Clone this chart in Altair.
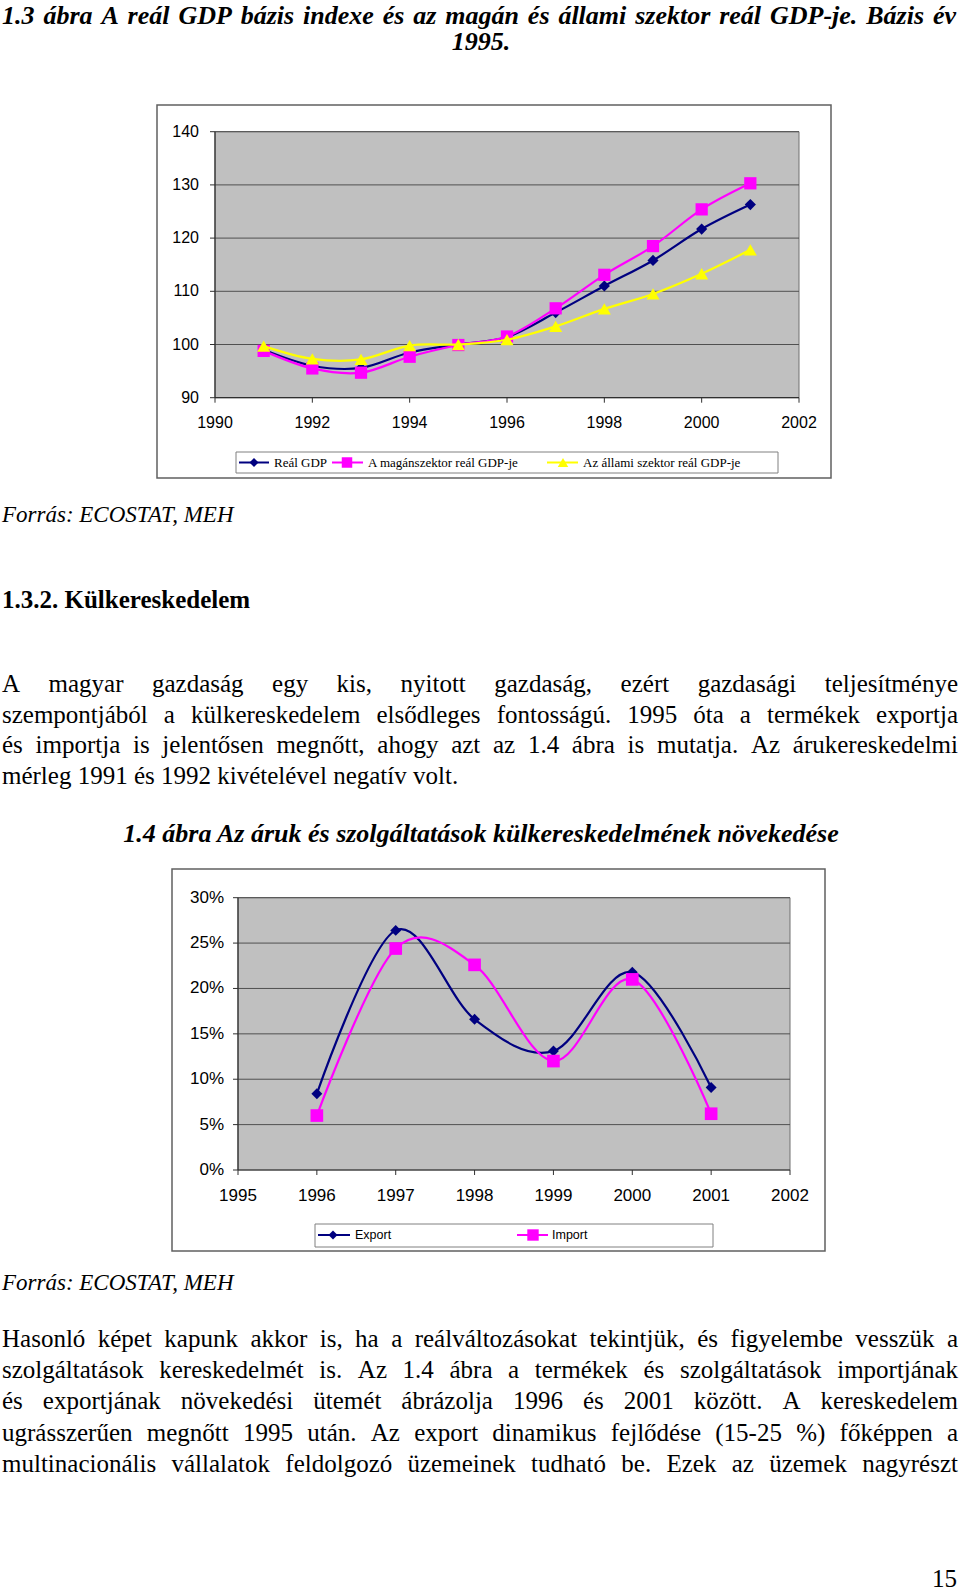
import unicodedata
import altair as alt
import pandas as pd

# ---------------- chart 1 data (index, 1995 = 100) ----------------
years_gdp = [1991, 1992, 1993, 1994, 1995, 1996, 1997, 1998, 1999, 2000, 2001]
real_gdp = [99.0, 96.0, 95.6, 98.5, 100.0, 101.4, 106.0, 111.0, 115.8, 121.7, 126.3]
private_gdp = [98.8, 95.5, 94.7, 97.7, 99.9, 101.5, 106.8, 113.1, 118.5, 125.4, 130.3]
state_gdp = [99.7, 97.3, 97.2, 99.8, 100.0, 100.9, 103.4, 106.7, 109.5, 113.3, 117.8]
series_gdp = ["Reál GDP", "A magánszektor reál GDP-je", "Az állami szektor reál GDP-je"]
y_ticks_gdp = [90, 100, 110, 120, 130, 140]
x_ticks_gdp = [1990, 1992, 1994, 1996, 1998, 2000, 2002]

# ---------------- chart 2 data (growth, %) ----------------
years_trade = [1996, 1997, 1998, 1999, 2000, 2001]
export_growth = [8.4, 26.4, 16.6, 13.1, 21.8, 9.1]
import_growth = [6.0, 24.4, 22.6, 12.0, 21.0, 6.2]
series_trade = ["Export", "Import"]
y_ticks_trade = [0, 5, 10, 15, 20, 25, 30]
y_labels_trade = ["0%", "5%", "10%", "15%", "20%", "25%", "30%"]
x_ticks_trade = [1995, 1996, 1997, 1998, 1999, 2000, 2001, 2002]

# ---------------- page text ----------------
title1 = ["1.3 ábra A reál GDP bázis indexe és az magán és állami szektor reál GDP-je. Bázis év",
          "1995."]
source_text = "Forrás: ECOSTAT, MEH"
heading = "1.3.2. Külkereskedelem"
para1 = [
    "A magyar gazdaság egy kis, nyitott gazdaság, ezért gazdasági teljesítménye",
    "szempontjából a külkereskedelem elsődleges fontosságú. 1995 óta a termékek exportja",
    "és importja is jelentősen megnőtt, ahogy azt az 1.4 ábra is mutatja. Az árukereskedelmi",
    "mérleg 1991 és 1992 kivételével negatív volt.",
]
title2 = "1.4 ábra Az áruk és szolgáltatások külkereskedelmének növekedése"
para2 = [
    "Hasonló képet kapunk akkor is, ha a reálváltozásokat tekintjük, és figyelembe vesszük a",
    "szolgáltatások kereskedelmét is. Az 1.4 ábra a termékek és szolgáltatások importjának",
    "és exportjának növekedési ütemét ábrázolja 1996 és 2001 között. A kereskedelem",
    "ugrásszerűen megnőtt 1995 után. Az export dinamikus fejlődése (15-25 %) főképpen a",
    "multinacionális vállalatok feldolgozó üzemeinek tudható be. Ezek az üzemek nagyrészt",
]
page_no = "15"

# ---------------- font metrics (Times-compatible, per 1000 em) ----------------
def make_table(groups):
    t = {}
    for chars, w in groups:
        for c in chars:
            t[c] = w
    return t

TIMES_R = make_table([
    (" .,", 250), ("ijlt:;/", 278), ("fr()-I", 333), ("sJ", 389), ("acez", 444),
    ("bdghknopquvxy0123456789", 500), ("FPS", 556), ("ELTZ", 611), ("BCR", 667),
    ("ADGHKNOQUVXYw", 722), ("m", 778), ("%", 833), ("M", 889), ("W", 944)])
TIMES_BI = make_table([
    (" .,", 250), ("ijlt", 278), ("f-():", 333), ("rszI", 389), ("cevy", 444),
    ("abdgkopqxJ0123456789", 500), ("hnuS", 556), ("LPTYZ", 611), ("ABCEFKRVXw", 667),
    ("DGNOQU", 722), ("mH", 778), ("%", 833), ("MW", 889)])

SERIF = "Liberation Serif, Times New Roman, serif"
SANS = "Liberation Sans, Arial, sans-serif"


def text_width(s, table, size):
    w = 0
    for ch in s:
        base = unicodedata.normalize("NFD", ch)[0]
        w += table.get(base, 500)
    return w * size / 1000.0


def layout_lines(lines, baselines, table, size, x0, x1, justify_flags):
    left, right = [], []
    for line, y, just in zip(lines, baselines, justify_flags):
        words = line.split(" ")
        if not just or len(words) < 2:
            left.append({"w": line, "x": x0, "y": y})
            continue
        widths = [text_width(w, table, size) for w in words]
        gap = (x1 - x0 - sum(widths)) / (len(words) - 1)
        x = x0
        for i, (w, wd) in enumerate(zip(words, widths)):
            if i == len(words) - 1:
                right.append({"w": w, "x": x1, "y": y})
            else:
                left.append({"w": w, "x": x, "y": y})
            x += wd + gap
    return left, right


def text_layer(rows, align, size, weight="normal", style="normal", font=SERIF):
    df = pd.DataFrame(rows)
    return alt.Chart(df).mark_text(
        align=align, baseline="alphabetic", font=font, fontSize=size,
        fontWeight=weight, fontStyle=style, color="black"
    ).encode(
        x=alt.X("x:Q", scale=None, axis=None),
        y=alt.Y("y:Q", scale=None, axis=None),
        text=alt.Text("w:N"),
    )


ONE = pd.DataFrame({"k": [0]})


def box(x0, x1, y0, y1, fill, stroke, sw):
    return alt.Chart(ONE).mark_rect(fill=fill, stroke=stroke, strokeWidth=sw).encode(
        x=alt.value(x0), x2=alt.value(x1), y=alt.value(y0), y2=alt.value(y1))


def hrule(x0, x1, y, color, sw):
    return alt.Chart(ONE).mark_rule(color=color, strokeWidth=sw).encode(
        x=alt.value(x0), x2=alt.value(x1), y=alt.value(y))


def marker(x, y, shape, size, color):
    return alt.Chart(ONE).mark_point(shape=shape, size=size, filled=True, color=color, opacity=1).encode(
        x=alt.value(x), y=alt.value(y))


def label(x, y, txt, size, font, align="left"):
    return alt.Chart(ONE).mark_text(text=txt, align=align, baseline="middle", font=font,
                                    fontSize=size, color="black").encode(
        x=alt.value(x), y=alt.value(y))


def plot_frame(xs, ys, xd, yd, grid_vals, xticks, yticks, ylabels, xlabels,
               tick_len, ylab_x, xlab_y, lab_size):
    out = []
    bg = pd.DataFrame({"a": [xd[0]], "b": [xd[1]], "c": [yd[0]], "d": [yd[1]]})
    out.append(alt.Chart(bg).mark_rect(fill="#C0C0C0", stroke="#707070", strokeWidth=1).encode(
        x=alt.X("a:Q", scale=xs, axis=None), x2="b:Q",
        y=alt.Y("c:Q", scale=ys, axis=None), y2="d:Q"))
    g = pd.DataFrame({"v": grid_vals, "lo": [xd[0]] * len(grid_vals), "hi": [xd[1]] * len(grid_vals)})
    out.append(alt.Chart(g).mark_rule(color="#505050", strokeWidth=1).encode(
        x=alt.X("lo:Q", scale=xs, axis=None), x2="hi:Q",
        y=alt.Y("v:Q", scale=ys, axis=None)))
    # axis lines
    ax = pd.DataFrame({"lo": [xd[0]], "hi": [xd[1]], "y": [yd[0]]})
    out.append(alt.Chart(ax).mark_rule(color="#303030", strokeWidth=1.2).encode(
        x=alt.X("lo:Q", scale=xs, axis=None), x2="hi:Q", y=alt.Y("y:Q", scale=ys, axis=None)))
    ay = pd.DataFrame({"x": [xd[0]], "lo": [yd[0]], "hi": [yd[1]]})
    out.append(alt.Chart(ay).mark_rule(color="#303030", strokeWidth=1.2).encode(
        x=alt.X("x:Q", scale=xs, axis=None), y=alt.Y("lo:Q", scale=ys, axis=None), y2="hi:Q"))
    # ticks
    x_left = xs.range[0]
    y_bottom = ys.range[0]
    yt = pd.DataFrame({"v": yticks, "lab": ylabels})
    out.append(alt.Chart(yt).mark_rule(color="#303030", strokeWidth=1).encode(
        x=alt.value(x_left - tick_len), x2=alt.value(x_left),
        y=alt.Y("v:Q", scale=ys, axis=None)))
    out.append(alt.Chart(yt).mark_text(align="right", baseline="middle", font=SANS,
                                       fontSize=lab_size, color="black").encode(
        x=alt.value(ylab_x), y=alt.Y("v:Q", scale=ys, axis=None), text="lab:N"))
    xt = pd.DataFrame({"v": xticks, "lab": xlabels})
    out.append(alt.Chart(xt).mark_rule(color="#303030", strokeWidth=1).encode(
        x=alt.X("v:Q", scale=xs, axis=None),
        y=alt.value(y_bottom), y2=alt.value(y_bottom + tick_len)))
    out.append(alt.Chart(xt).mark_text(align="center", baseline="middle", font=SANS,
                                       fontSize=lab_size, color="black").encode(
        x=alt.X("v:Q", scale=xs, axis=None), y=alt.value(xlab_y), text="lab:N"))
    return out


def series(years, vals, xs, ys, color, shape, size, sw=2):
    df = pd.DataFrame({"year": years, "value": vals})
    base = alt.Chart(df).encode(x=alt.X("year:Q", scale=xs, axis=None),
                                y=alt.Y("value:Q", scale=ys, axis=None))
    return [
        base.mark_line(color=color, strokeWidth=sw, interpolate="cardinal", tension=0),
        base.mark_point(shape=shape, size=size, filled=True, color=color, opacity=1),
    ]


NAVY, MAGENTA, YELLOW = "#000080", "#FF00FF", "#FFFF00"
layers = []

# ---------------- chart 1 ----------------
X1 = alt.Scale(domain=[1990, 2002], range=[215, 799], zero=False, nice=False)
Y1 = alt.Scale(domain=[90, 140], range=[397.7, 131.7], zero=False, nice=False)
layers.append(box(157, 831, 105, 478, "white", "#606060", 1.5))
layers += plot_frame(X1, Y1, [1990, 2002], [90, 140], [100, 110, 120, 130, 140],
                     x_ticks_gdp, y_ticks_gdp, [str(v) for v in y_ticks_gdp],
                     [str(v) for v in x_ticks_gdp], 5, 199, 423, 16)
layers += series(years_gdp, real_gdp, X1, Y1, NAVY, "diamond", 125, 2.2)
layers += series(years_gdp, private_gdp, X1, Y1, MAGENTA, "square", 150, 2.2)
layers += series(years_gdp, state_gdp, X1, Y1, YELLOW, "triangle-up", 170, 2.2)
# legend 1
layers.append(box(236, 778, 452, 473, "white", "#808080", 1))
leg1 = [(239, 269, 254, 274, NAVY, "diamond", 80),
        (332, 363, 347, 368, MAGENTA, "square", 110),
        (547, 578, 563, 583, YELLOW, "triangle-up", 110)]
for (a, b, m, t, col, shp, sz), name in zip(leg1, series_gdp):
    layers.append(hrule(a, b, 462.5, col, 2))
    layers.append(marker(m, 462.5, shp, sz, col))
    layers.append(label(t, 463, name, 13, SERIF))

# ---------------- chart 2 ----------------
X2 = alt.Scale(domain=[1995, 2002], range=[238, 790], zero=False, nice=False)
Y2 = alt.Scale(domain=[0, 30], range=[1170, 897.7], zero=False, nice=False)
layers.append(box(172, 825, 869, 1251, "white", "#606060", 1.5))
layers += plot_frame(X2, Y2, [1995, 2002], [0, 30], [5, 10, 15, 20, 25, 30],
                     x_ticks_trade, y_ticks_trade, y_labels_trade,
                     [str(v) for v in x_ticks_trade], 5, 224, 1196, 17)
layers += series(years_trade, export_growth, X2, Y2, NAVY, "diamond", 120, 2.2)
layers += series(years_trade, import_growth, X2, Y2, MAGENTA, "square", 160, 2.2)
layers.append(box(315, 713, 1224, 1247, "white", "#808080", 1))
leg2 = [(318, 350, 333, 355, NAVY, "diamond", 80),
        (517, 548, 533, 552, MAGENTA, "square", 130)]
for (a, b, m, t, col, shp, sz), name in zip(leg2, series_trade):
    layers.append(hrule(a, b, 1235, col, 2))
    layers.append(marker(m, 1235, shp, sz, col))
    layers.append(label(t, 1235, name, 12.5, SANS))

# ---------------- page text ----------------
BODY = 25
TITLE = 26
# title 1
l, r = layout_lines([title1[0]], [23.5], TIMES_BI, TITLE, 2, 956, [True])
layers.append(text_layer(l, "left", TITLE, "bold", "italic"))
layers.append(text_layer(r, "right", TITLE, "bold", "italic"))
layers.append(text_layer([{"w": title1[1], "x": 481, "y": 50}], "center", TITLE, "bold", "italic"))
# sources
layers.append(text_layer([{"w": source_text, "x": 2, "y": 522},
                          {"w": source_text, "x": 2, "y": 1290}], "left", 23, "normal", "italic"))
# heading
layers.append(text_layer([{"w": heading, "x": 2, "y": 608}], "left", 25, "bold"))
# paragraph 1
l, r = layout_lines(para1, [692, 722.6, 753.2, 783.8], TIMES_R, BODY, 2, 958,
                    [True, True, True, False])
layers.append(text_layer(l, "left", BODY))
layers.append(text_layer(r, "right", BODY))
# title 2 (centred, natural spacing)
layers.append(text_layer([{"w": title2, "x": 481, "y": 842}], "center", TITLE, "bold", "italic"))
# paragraph 2
l, r = layout_lines(para2, [1347, 1378.2, 1409.4, 1440.6, 1471.8], TIMES_R, BODY, 2, 958,
                    [True, True, True, True, True])
layers.append(text_layer(l, "left", BODY))
layers.append(text_layer(r, "right", BODY))
# page number
layers.append(text_layer([{"w": page_no, "x": 957, "y": 1587}], "right", BODY))

chart = alt.layer(*layers).resolve_scale(
    x="independent", y="independent"
).properties(
    width=960, height=1591, padding=0,
    autosize=alt.AutoSizeParams(type="none"),
    background="white",
).configure_view(stroke=None)

chart.save("out.html", embed_options={"renderer": "svg", "actions": False})
